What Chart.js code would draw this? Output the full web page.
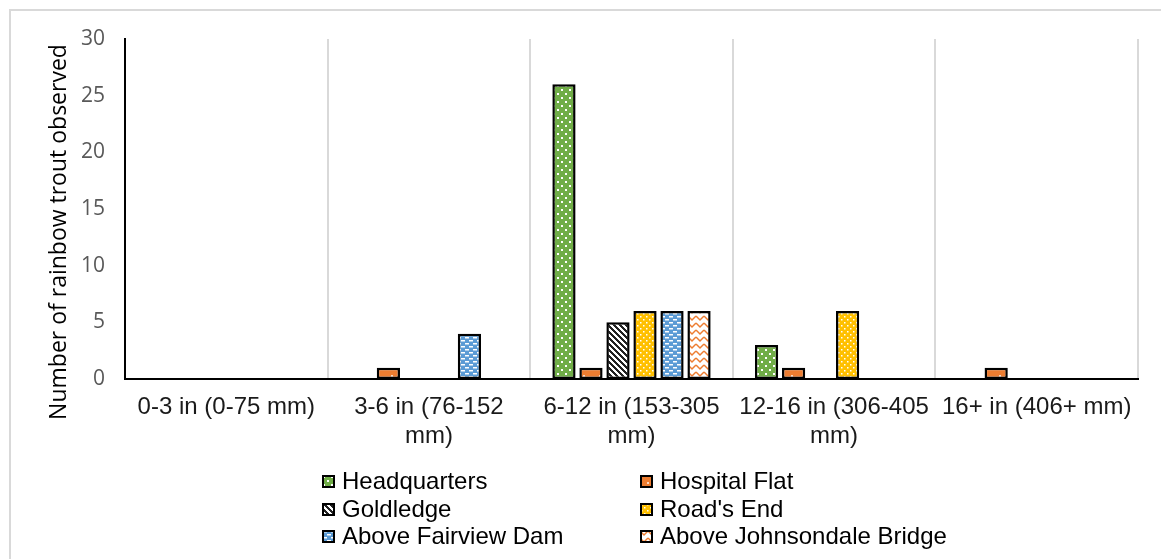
<!DOCTYPE html>
<html>
<head>
<meta charset="utf-8">
<script src="https://cdn.jsdelivr.net/npm/chart.js@4"></script>
<style>
  html, body { margin: 0; padding: 0; background: #fff; }
  #wrap { position: relative; width: 1161px; height: 559px; overflow: hidden; }
  #frame { position: absolute; left: 9px; top: 9px; width: 1300px; height: 700px; border: 2px solid #d9d9d9; box-sizing: border-box; }
  #box { position: absolute; left: 0; top: 0; width: 1161px; height: 559px; }
  .lg { position: absolute; font: 24px "Liberation Sans", Arial, sans-serif; color: #000; line-height: 28px; white-space: nowrap; }
  .lg canvas { position: absolute; left: 0; top: 8px; }
  .lg span { position: absolute; left: 20px; top: 0; }
</style>
</head>
<body>
<div id="wrap">
  <div id="frame"></div>
  <div id="box"><canvas id="chartTrout"></canvas></div>
  <div id="legend"></div>
</div>
<script>
(function() {
    'use strict';

    // size classes (x axis)
    const sizeClasses = [
        ['0-3 in (0-75 mm)'],
        ['3-6 in (76-152', 'mm)'],
        ['6-12 in (153-305', 'mm)'],
        ['12-16 in (306-405', 'mm)'],
        ['16+ in (406+ mm)']
    ];

    // rainbow trout counts per site
    const headquarters = [0, 0, 26, 3, 0];
    const hospitalFlat = [0, 1, 1, 1, 1];
    const goldledge = [0, 0, 5, 0, 0];
    const roadsEnd = [0, 0, 6, 6, 0];
    const aboveFairviewDam = [0, 4, 6, 0, 0];
    const aboveJohnsondaleBridge = [0, 0, 6, 0, 0];

    const yMin = 0, yMax = 30, yStep = 5;

    // pattern tiles (Excel-like fills)
    function makePattern(ctx, kind) {
        const c = document.createElement('canvas');
        const t = c.getContext('2d');
        if (kind === 'green') {
            c.width = 8; c.height = 8;
            t.fillStyle = '#70AD47'; t.fillRect(0, 0, 8, 8);
            t.fillStyle = '#fff';
            t.fillRect(1, 1, 2, 2); t.fillRect(5, 5, 2, 2);
        } else if (kind === 'orange') {
            c.width = 16; c.height = 16;
            t.fillStyle = '#ED7D31'; t.fillRect(0, 0, 16, 16);
            t.fillStyle = 'rgba(255,255,255,0.7)';
            t.fillRect(7, 7, 2, 2);
        } else if (kind === 'stripes') {
            c.width = 6; c.height = 6;
            t.fillStyle = '#fff'; t.fillRect(0, 0, 6, 6);
            t.fillStyle = '#222';
            for (let x = 0; x < 6; x++) {
                for (let y = 0; y < 6; y++) {
                    if ((x - y + 6) % 6 < 3) t.fillRect(x, y, 1, 1);
                }
            }
        } else if (kind === 'yellow') {
            c.width = 6; c.height = 6;
            t.fillStyle = '#FFC000'; t.fillRect(0, 0, 6, 6);
            t.fillStyle = '#fff';
            t.fillRect(1, 1, 1.5, 1.5); t.fillRect(4, 4, 1.5, 1.5);
        } else if (kind === 'blue') {
            c.width = 8; c.height = 6;
            t.fillStyle = '#5B9BD5'; t.fillRect(0, 0, 8, 6);
            t.fillStyle = '#fff';
            t.fillRect(1, 1, 4, 1.5);
            t.fillRect(5, 4, 3, 1.5); t.fillRect(0, 4, 1, 1.5);
        } else {
            c.width = 8; c.height = 7;
            t.fillStyle = '#fff'; t.fillRect(0, 0, 8, 7);
            t.strokeStyle = '#ED7D31'; t.lineWidth = 1.5;
            t.beginPath();
            t.moveTo(0, 1); t.lineTo(4, 5); t.lineTo(8, 1);
            t.stroke();
        }
        return ctx.createPattern(c, 'repeat');
    }

    const sites = [
        { label: 'Headquarters', data: headquarters, fill: 'green' },
        { label: 'Hospital Flat', data: hospitalFlat, fill: 'orange' },
        { label: 'Goldledge', data: goldledge, fill: 'stripes' },
        { label: "Road's End", data: roadsEnd, fill: 'yellow' },
        { label: 'Above Fairview Dam', data: aboveFairviewDam, fill: 'blue' },
        { label: 'Above Johnsondale Bridge', data: aboveJohnsondaleBridge, fill: 'zigzag' }
    ];

    const canvas = document.getElementById('chartTrout');
    const ctx = canvas.getContext('2d');

    // y axis title, drawn a bit below the plot centre like the original
    const yTitle = {
        id: 'yTitle',
        afterDraw(chart) {
            const a = chart.chartArea;
            const c = chart.ctx;
            c.save();
            c.translate(59, (a.top + a.bottom) / 2 + 23);
            c.rotate(-Math.PI / 2);
            c.font = '23px "Open Sans"';
            c.fillStyle = '#000';
            c.textAlign = 'center';
            c.textBaseline = 'middle';
            c.fillText('Number of rainbow trout observed', 0, 0);
            c.restore();
        }
    };

    new Chart(canvas, {
        type: 'bar',
        data: {
            labels: sizeClasses,
            datasets: sites.map(s => ({
                label: s.label,
                data: s.data,
                backgroundColor: makePattern(ctx, s.fill),
                borderColor: '#000',
                borderWidth: 2.5,
                borderSkipped: false,
                categoryPercentage: 0.8,
                barPercentage: 0.86
            }))
        },
        options: {
            responsive: true,
            maintainAspectRatio: false,
            animation: false,
            layout: { padding: { left: 0, top: 39, right: 23, bottom: 100 } },
            plugins: {
                legend: { display: false },
                tooltip: { enabled: false }
            },
            scales: {
                x: {
                    grid: { display: true, color: '#d9d9d9', lineWidth: 2, drawTicks: false },
                    border: { display: true, color: '#000', width: 2 },
                    ticks: {
                        color: '#1a1a1a',
                        padding: 14,
                        maxRotation: 0,
                        autoSkip: false,
                        font: { family: '"Liberation Sans", Arial', size: 24, lineHeight: 1.2 }
                    },
                    afterFit: (s) => { s.height = 80; }
                },
                y: {
                    min: yMin,
                    max: yMax,
                    grid: { display: false, drawTicks: false },
                    border: { display: true, color: '#000', width: 2 },
                    ticks: {
                        stepSize: yStep,
                        color: '#595959',
                        padding: 20,
                        font: { family: '"Open Sans"', size: 21 }
                    },
                    afterFit: (s) => { s.width = 125; }
                }
            }
        },
        plugins: [yTitle]
    });

    // two-column legend like the original
    const legend = document.getElementById('legend');
    const cols = [322, 640];
    const rows = [467, 494.5, 522];
    sites.forEach((s, i) => {
        const item = document.createElement('div');
        item.className = 'lg';
        item.style.left = cols[i % 2] + 'px';
        item.style.top = rows[Math.floor(i / 2)] + 'px';
        const sw = document.createElement('canvas');
        sw.width = 13; sw.height = 13;
        const sctx = sw.getContext('2d');
        sctx.fillStyle = makePattern(sctx, s.fill);
        sctx.fillRect(0, 0, 13, 13);
        sctx.strokeStyle = '#000';
        sctx.lineWidth = 2;
        sctx.strokeRect(1, 1, 11, 11);
        const txt = document.createElement('span');
        txt.textContent = s.label;
        item.appendChild(sw);
        item.appendChild(txt);
        legend.appendChild(item);
    });
})();
</script>
</body>
</html>
